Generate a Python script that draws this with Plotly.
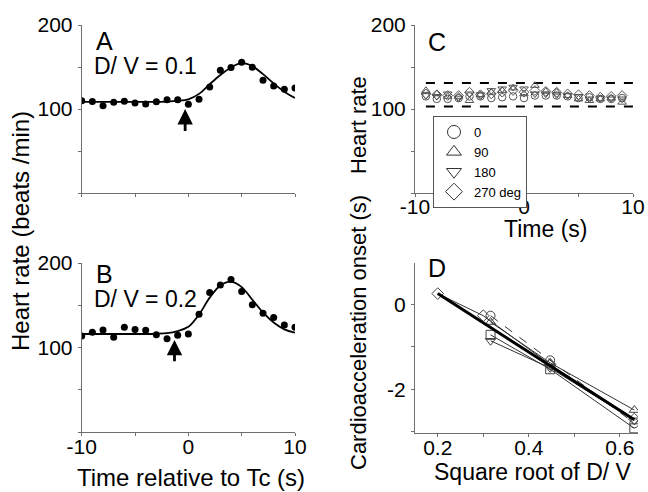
import plotly.graph_objects as go

# ---------------- data ----------------
# Panel A (D/V = 0.1)
t_pts = [-10, -9, -8, -7, -6, -5, -4, -3, -2, -1, 0, 1, 2, 3, 4, 5, 6, 7, 8, 9, 10]
hr_a = [109.7, 108.9, 103.8, 108.0, 109.3, 107.0, 106.0, 108.5, 110.9, 110.9, 105.7,
        111.7, 126.3, 146.1, 149.3, 155.6, 149.7, 134.3, 127.5, 123.6, 125.1]
fit_t_a = [-10, -8, -6, -4, -2, -1, 0, 1, 2, 3, 4, 5, 6, 7, 8, 9, 10]
fit_hr_a = [108.5, 108.5, 108.5, 108.5, 108.8, 109.6, 111.5, 118.0, 129.5, 140.5, 149.5,
            154.5, 151.0, 141.5, 130.5, 120.5, 113.0]
onset_a = -0.3

# Panel B (D/V = 0.2)
hr_b = [113.7, 118.0, 120.8, 112.0, 124.0, 121.2, 120.4, 115.2, 110.5, 114.5, 116.0,
        139.4, 165.1, 173.9, 180.6, 166.3, 150.5, 140.6, 135.4, 126.7, 124.0]
fit_t_b = [-10, -8, -6, -4, -3, -2, -1, 0, 1, 2, 3, 4, 5, 6, 7, 8, 9, 10]
fit_hr_b = [116.0, 116.0, 116.0, 116.0, 116.3, 117.0, 119.5, 124.5, 139.0, 159.0, 173.5,
            178.0, 171.5, 156.5, 141.5, 129.5, 121.5, 117.5]
onset_b = -1.3

# Panel C (control, heading angles)
t_c = [-9, -8, -7, -6, -5, -4, -3, -2, -1, 0, 1, 2, 3, 4, 5, 6, 7, 8, 9]
hr_c0 = [115, 112, 112, 113, 115, 115, 113, 114, 115, 113, 116, 116, 116, 115, 113, 114, 112, 112, 113]
hr_c90 = [122, 118, 115, 115, 110, 117, 120, 122, 125, 118, 128, 121, 120, 116, 112, 110, 112, 113, 108]
hr_c180 = [116, 115, 118, 113, 118, 117, 122, 124, 126, 124, 118, 118, 117, 116, 115, 112, 113, 112, 112]
hr_c270 = [118, 117, 116, 116, 120, 117, 118, 120, 122, 120, 122, 121, 120, 118, 117, 116, 114, 115, 116]
band_t = [-9, 10]
band_hi = 131
band_lo = 103
legend_labels = ["0", "90", "180", "270 deg"]

# Panel D (onset vs sqrt(D/V))
d_x_circle = [0.316, 0.447, 0.632]
d_y_circle = [-0.27, -1.32, -2.80]
d_x_up = [0.316, 0.447, 0.632]
d_y_up = [-0.42, -1.38, -2.49]
d_x_down = [0.316, 0.447, 0.632]
d_y_down = [-0.86, -1.50, -2.73]
d_x_diamond = [0.2, 0.3, 0.447, 0.632]
d_y_diamond = [0.25, -0.27, -1.42, -2.70]
d_x_square = [0.316, 0.447, 0.632]
d_y_square = [-0.72, -1.53, -2.92]
d_x_fit = [0.2, 0.632]
d_y_fit = [0.25, -2.72]

# ---------------- figure ----------------
W, H = 648, 492
def px(x):
    return x / W
def py(y):
    return 1 - y / H

FONT = "Liberation Sans, Arial, sans-serif"
AXC = "#6e6e6e"
fig = go.Figure()

# Panel A
fig.add_trace(go.Scatter(x=fit_t_a, y=fit_hr_a, mode="lines", line=dict(color="black", width=1.8, shape="spline"),
                         xaxis="x", yaxis="y", showlegend=False))
fig.add_trace(go.Scatter(x=t_pts, y=hr_a, mode="markers", marker=dict(color="black", size=7),
                         xaxis="x", yaxis="y", showlegend=False))
# Panel B
fig.add_trace(go.Scatter(x=fit_t_b, y=fit_hr_b, mode="lines", line=dict(color="black", width=1.8, shape="spline"),
                         xaxis="x2", yaxis="y2", showlegend=False))
fig.add_trace(go.Scatter(x=t_pts, y=hr_b, mode="markers", marker=dict(color="black", size=7),
                         xaxis="x2", yaxis="y2", showlegend=False))

# Panel C
for yy in (band_hi, band_lo):
    fig.add_trace(go.Scatter(x=band_t, y=[yy, yy], mode="lines", line=dict(color="black", width=2, dash="dash"),
                             xaxis="x3", yaxis="y3", showlegend=False))
c_series = [(hr_c0, "circle-open"), (hr_c90, "triangle-up-open"),
            (hr_c180, "triangle-down-open"), (hr_c270, "diamond-open")]
for (vals, sym), lab in zip(c_series, legend_labels):
    fig.add_trace(go.Scatter(x=t_c, y=vals, mode="markers",
                             marker=dict(symbol=sym, size=7.5, color="#555", line=dict(width=1, color="#555")),
                             xaxis="x3", yaxis="y3", showlegend=False))
for (vals, sym), lab in zip(c_series, legend_labels):
    fig.add_trace(go.Scatter(x=[None], y=[None], mode="markers", name=lab,
                             marker=dict(symbol=sym, size=13, color="#333", line=dict(width=1, color="#333")),
                             xaxis="x3", yaxis="y3", showlegend=True))

# Panel D
d_series = [(d_x_circle, d_y_circle, "circle-open", "dash"),
            (d_x_up, d_y_up, "triangle-up-open", "solid"),
            (d_x_down, d_y_down, "triangle-down-open", "solid"),
            (d_x_diamond, d_y_diamond, "diamond-open", "solid"),
            (d_x_square, d_y_square, "square-open", "solid")]
for xs, ys, sym, dash in d_series:
    fig.add_trace(go.Scatter(x=xs, y=ys, mode="lines+markers",
                             line=dict(color="#333", width=1, dash=dash),
                             marker=dict(symbol=sym, size=9, color="#444", line=dict(width=1, color="#444")),
                             xaxis="x4", yaxis="y4", showlegend=False))
fig.add_trace(go.Scatter(x=d_x_fit, y=d_y_fit, mode="lines", line=dict(color="black", width=3),
                         xaxis="x4", yaxis="y4", showlegend=False))

def axis(domain, rng, tickvals, ticktext, anchor, standoff=0):
    return dict(domain=domain, range=rng, tickvals=tickvals, ticktext=ticktext, anchor=anchor,
                automargin=False, ticklabelstandoff=standoff,
                showline=True, linecolor=AXC, linewidth=1, ticks="outside", ticklen=3, tickcolor=AXC,
                showgrid=False, zeroline=False, tickfont=dict(size=21, color="black", family=FONT))

xd_left = [px(81.7), px(295)]
xd_right = [px(415), px(638)]
yd_top = [py(193), py(25)]
yd_bot = [py(432), py(263)]
XS = -7

fig.update_layout(
    width=W, height=H, margin=dict(l=0, r=0, t=0, b=0, autoexpand=False),
    paper_bgcolor="white", plot_bgcolor="white",
    font=dict(family=FONT, color="black"),
    xaxis=axis(xd_left, [-10, 10], [-10, -5, 0, 5, 10], ["", "", "", "", ""], "y", XS),
    yaxis=axis(yd_top, [0, 200], [0, 50, 100, 150, 200], ["", "", "100", "", "200"], "x", 1),
    xaxis2=axis(xd_left, [-10, 10], [-10, -5, 0, 5, 10], ["-10", "", "0", "", "10"], "y2", XS),
    yaxis2=axis(yd_bot, [0, 200], [0, 50, 100, 150, 200], ["", "", "100", "", "200"], "x2", 1),
    xaxis3=axis([px(415), px(633)], [-10, 10], [-10, -5, 0, 5, 10], ["-10", "", "0", "", "10"], "y3", -8),
    yaxis3=axis(yd_top, [0, 200], [0, 50, 100, 150, 200], ["", "", "100", "", "200"], "x3", 1),
    xaxis4=axis(xd_right, [0.15, 0.64], [0.2, 0.3, 0.4, 0.5, 0.6], ["0.2", "", "0.4", "", "0.6"], "y4", XS),
    yaxis4=axis([py(433), py(263)], [-3.03, 0.97], [-3, -2, -1, 0], ["", "-2", "", "0"], "x4", 1),
    legend=dict(x=px(433), y=py(116), xanchor="left", yanchor="top",
                bordercolor="#555", borderwidth=1, bgcolor="white",
                font=dict(size=13, family=FONT, color="black"), tracegroupgap=0,
                itemwidth=30, itemsizing="trace"),
)

ann = []
def text(x, y, s, size, angle=0, xanchor="center"):
    ann.append(dict(x=px(x), y=py(y), xref="paper", yref="paper", text=s, showarrow=False,
                    font=dict(size=size, family=FONT, color="black"), textangle=angle,
                    xanchor=xanchor, yanchor="middle"))

text(94, 41, "A", 25, xanchor="left")
text(92, 66, "D/ V = 0.1", 23, xanchor="left")
text(94, 274, "B", 25, xanchor="left")
text(92, 299, "D/ V = 0.2", 23, xanchor="left")
text(426, 42, "C", 25, xanchor="left")
text(426, 268, "D", 25, xanchor="left")
text(191, 477, "Time relative to Tc (s)", 24)
text(545, 229, "Time (s)", 23)
text(533, 472, "Square root of D/ V", 23)
text(20, 231, "Heart rate (beats /min)", 24, angle=-90)
text(358, 125, "Heart rate", 22, angle=-90)
text(358, 333, "Cardioacceleration onset (s)", 22, angle=-90)

# onset arrows
ann.append(dict(x=onset_a, y=100, ax=onset_a, ay=72, xref="x", yref="y", axref="x", ayref="y",
                showarrow=True, arrowhead=2, arrowsize=1.1, arrowwidth=2.8, arrowcolor="black", text=""))
ann.append(dict(x=onset_b, y=109, ax=onset_b, ay=82, xref="x2", yref="y2", axref="x2", ayref="y2",
                showarrow=True, arrowhead=2, arrowsize=1.1, arrowwidth=2.8, arrowcolor="black", text=""))
fig.update_layout(annotations=ann)

fig.write_html("out.html")
